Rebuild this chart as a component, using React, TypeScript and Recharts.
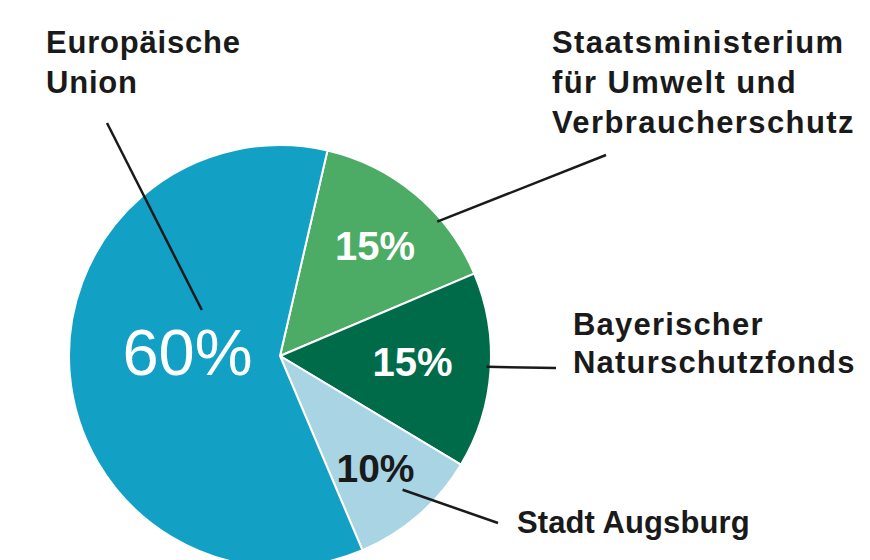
import React from "react";
import { PieChart, Pie, Cell } from "recharts";

// Finanzierung – Anteile der Geldgeber
const categories = [
  "Staatsministerium\nfür Umwelt und\nVerbraucherschutz",
  "Bayerischer\nNaturschutzfonds",
  "Stadt Augsburg",
  "Europäische\nUnion",
];
const shares = [15, 15, 10, 60];

const colors = ["#4cab64", "#006b49", "#a8d4e4", "#12a1c4"];
const percentColors = ["#ffffff", "#ffffff", "#1a1a1a", "#ffffff"];
const percentSizes = [40, 40, 39, 65];
const percentWeights = [700, 700, 700, 400];
// radius factor of the percent label inside each slice, plus a small vertical nudge
const percentRadius = [0.7, 0.63, 0.69, 0.44];
const percentNudge = [3, -3, 3, -12];

// leader lines: start inside the slice (angle in degrees clockwise from top, radius factor),
// end and text block in page space
const leaders = [
  { angle: 49.5, r: 0.98, end: [606, 155], text: [552, 53], lineGap: 40, spacing: 1.4 },
  { angle: 93, r: 0.98, end: [556, 368], text: [573, 335], lineGap: 38, spacing: 1.2 },
  { angle: 137.5, r: 0.86, end: [498, 523], text: [517, 533], lineGap: 40, spacing: 0.1 },
  { angle: 300.5, r: 0.43, end: [107, 123], text: [46, 53], lineGap: 40, spacing: 0.8 },
];

const data = categories.map((name, i) => ({ name, value: shares[i] }));

const RAD = Math.PI / 180;
const FONT = "'Liberation Sans', Arial, Helvetica, sans-serif";

const renderLabel = (props: any) => {
  const { cx, cy, midAngle, outerRadius, index } = props;
  const pr = outerRadius * percentRadius[index];
  const px = cx + pr * Math.cos(-midAngle * RAD);
  const py = cy + pr * Math.sin(-midAngle * RAD) + percentNudge[index];
  const ld = leaders[index];
  const a = ld.angle * RAD;
  const sx = cx + outerRadius * ld.r * Math.sin(a);
  const sy = cy - outerRadius * ld.r * Math.cos(a);
  const lines = categories[index].split("\n");
  return (
    <g key={`lbl-${index}`}>
      <text
        x={px}
        y={py}
        fill={percentColors[index]}
        fontSize={percentSizes[index]}
        fontWeight={percentWeights[index]}
        fontFamily={FONT}
        textAnchor="middle"
        dominantBaseline="central"
      >
        {`${shares[index]}%`}
      </text>
      <line x1={sx} y1={sy} x2={ld.end[0]} y2={ld.end[1]} stroke="#1a1a1a" strokeWidth={2.5} />
      <text
        x={ld.text[0]}
        y={ld.text[1]}
        fill="#1a1a1a"
        fontSize={31}
        fontWeight={700}
        fontFamily={FONT}
        letterSpacing={ld.spacing}
      >
        {lines.map((ln, k) => (
          <tspan key={k} x={ld.text[0]} y={ld.text[1] + k * ld.lineGap}>
            {ln}
          </tspan>
        ))}
      </text>
    </g>
  );
};

export default function App() {
  return (
    <div style={{ position: "absolute", left: 0, top: 0, width: 870, height: 560, background: "#ffffff", overflow: "hidden" }}>
      <PieChart width={870} height={560} margin={{ top: 0, right: 0, bottom: 0, left: 0 }}>
        <Pie
          data={data}
          dataKey="value"
          nameKey="name"
          cx={280}
          cy={356}
          outerRadius={211}
          startAngle={77}
          endAngle={-283}
          stroke="#ffffff"
          strokeWidth={2}
          label={renderLabel}
          labelLine={false}
          isAnimationActive={false}
        >
          {data.map((d, i) => (
            <Cell key={d.name} fill={colors[i]} />
          ))}
        </Pie>
      </PieChart>
    </div>
  );
}
